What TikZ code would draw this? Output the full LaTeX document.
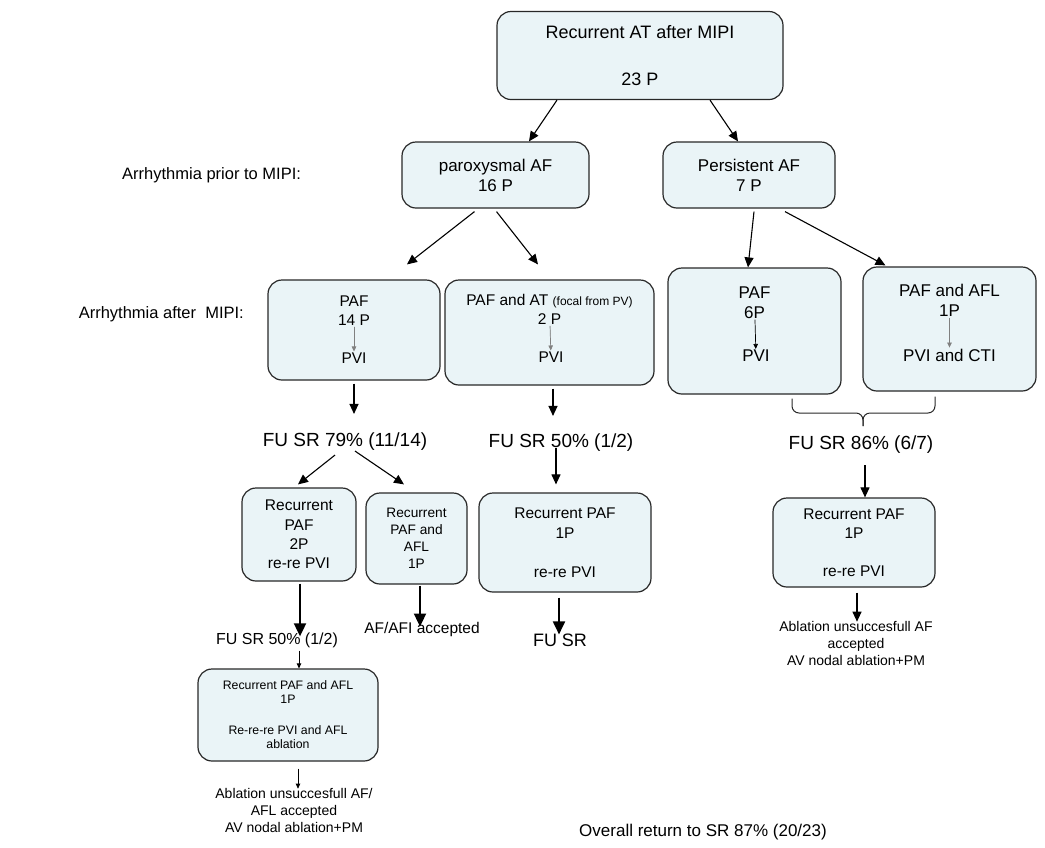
\documentclass[tikz,border=0pt]{standalone}
\usepackage{fontspec}
\setmainfont{Liberation Sans}
\usetikzlibrary{arrows.meta}
\definecolor{boxfill}{RGB}{234,244,247}
\definecolor{boxline}{RGB}{40,40,40}

\begin{document}
\begin{tikzpicture}[x=1pt,y=-1pt,
    box/.style={draw=boxline, fill=boxfill, line width=1.2pt, rounded corners=14pt, align=center, inner sep=0pt},
    lbl/.style={align=center, inner sep=1pt},
    arr/.style={-{Triangle[length=10pt,width=9pt]}, line width=1.1pt},
    bigarr/.style={-{Triangle[length=13pt,width=12pt]}, line width=1.9pt},
    smallarr/.style={-{Triangle[length=5pt,width=4.5pt]}, line width=0.7pt},
    greyarr/.style={smallarr, draw=gray, fill=black},
    f19/.style={font=\fontsize{19}{22}\selectfont},
    f17/.style={font=\fontsize{17}{20}\selectfont},
    f15/.style={font=\fontsize{15.5}{19.3}\selectfont},
    f14/.style={font=\fontsize{14}{17}\selectfont}]
    \path[fill=white, use as bounding box] (0,0) rectangle (1045,847);

    % Top
    \node[box, font=\fontsize{18}{21}\selectfont, minimum width=286pt, minimum height=88pt] (top) at (640,55.5) {Recurrent AT after MIPI\\[26pt]23 P};

    % Arrhythmia prior to MIPI
    \node[lbl, font=\fontsize{16.5}{20}\selectfont, anchor=west] (prior) at (121,175) {Arrhythmia prior to MIPI:};
    \node[box, f17, minimum width=187pt, minimum height=66pt] (parox) at (495.5,175) {paroxysmal AF\\16 P};
    \node[box, f17, minimum width=172pt, minimum height=66pt] (persist) at (749,175) {Persistent AF\\7 P};
    \draw[arr] ([xshift=-83pt]top.south) -- ([xshift=33.5pt]parox.north);
    \draw[arr] ([xshift=70pt]top.south) -- ([xshift=-11pt]persist.north);

    % Arrhythmia after MIPI
    \node[lbl, font=\fontsize{16.5}{20}\selectfont, anchor=east] (after) at (245,314) {Arrhythmia after\ \ MIPI:};
    \node[box, minimum width=172pt, minimum height=100pt] (paf) at (354,330) {};
    \node[lbl, f15] (pafA) at (354,310.5) {PAF\\14 P};
    \node[lbl, f15] (pafB) at (354,358) {PVI};
    \draw[greyarr] (pafA) -- (pafB);

    \node[box, minimum width=209pt, minimum height=105pt] (pafat) at (549.5,332.5) {};
    \node[lbl, f15] (pafatA) at (549.5,309.5) {PAF and AT {\fontsize{12}{14}\selectfont(focal from PV)}\\2 P};
    \node[lbl, f15] (pafatB) at (551,357) {PVI};
    \draw[greyarr] (pafatA) -- (pafatB);

    \node[box, minimum width=173pt, minimum height=126pt] (paf6) at (754.5,331) {};
    \node[lbl, f17] (paf6A) at (754.5,302.5) {PAF\\6P};
    \node[lbl, f17] (paf6B) at (756,356) {PVI};
    \draw[smallarr] (paf6A) -- (paf6B);

    \node[box, minimum width=173pt, minimum height=124pt] (pafafl) at (949.5,329) {};
    \node[lbl, f17] (pafaflA) at (949.5,300.5) {PAF and AFL\\1P};
    \node[lbl, f17] (pafaflB) at (949.5,355) {PVI and CTI};
    \draw[greyarr] (pafaflA) -- (pafaflB);

    \draw[arr] ([xshift=-21pt,yshift=-3pt]parox.south) -- ([xshift=53pt,yshift=15pt]paf.north);
    \draw[arr] ([xshift=1pt,yshift=-3pt]parox.south) -- ([xshift=-11.5pt,yshift=15pt]pafat.north);
    \draw[arr] ([xshift=5pt,yshift=-3pt]persist.south) -- ([xshift=-6.5pt]paf6.north);
    \draw[arr] ([xshift=36pt,yshift=-3pt]persist.south) -- ([xshift=-64pt,yshift=1pt]pafafl.north);

    % Left branch
    \node[lbl, f19] (fu1) at (345,442) {FU SR 79\% (11/14)};
    \draw[arr] ([yshift=-3pt]paf.south) -- ([xshift=9pt,yshift=18pt]fu1.north);
    \node[box, f15, minimum width=114pt, minimum height=93pt] (rec1) at (299,534.5) {Recurrent\\PAF\\2P\\re-re PVI};
    \node[box, font=\fontsize{13.7}{17}\selectfont, minimum width=101pt, minimum height=91pt] (rec2) at (416.5,538.5) {Recurrent\\PAF and\\AFL\\1P};
    \draw[arr] ([xshift=-10pt,yshift=-3pt]fu1.south) -- ([xshift=-1pt,yshift=3pt]rec1.north);
    \draw[arr] ([xshift=10pt,yshift=1pt]fu1.south) -- ([xshift=-12.5pt,yshift=8pt]rec2.north);

    \node[lbl, font=\fontsize{16}{19}\selectfont] (fu1b) at (277,640) {FU SR 50\% (1/2)};
    \draw[bigarr] ([xshift=1pt,yshift=-2pt]rec1.south) -- ([xshift=23pt,yshift=-5pt]fu1b.north);
    \node[box, font=\fontsize{12.3}{14}\selectfont, minimum width=180pt, minimum height=92pt] (rec4) at (288,715) {Recurrent PAF and AFL\\1P\\[17pt]Re-re-re PVI and AFL\\ablation};
    \draw[smallarr] ([xshift=22pt,yshift=-2pt]fu1b.south) -- ([xshift=11pt]rec4.north);
    \node[lbl, f14] (abl1) at (294,810) {Ablation unsuccesfull AF/\\AFL accepted\\AV nodal ablation+PM};
    \draw[smallarr] ([xshift=10pt,yshift=-7pt]rec4.south) -- ([xshift=4pt,yshift=-2pt]abl1.north);

    \node[lbl, font=\fontsize{15.5}{19}\selectfont] (acc2) at (422,629) {AF/AFI accepted};
    \draw[bigarr] ([xshift=3.5pt,yshift=-1pt]rec2.south) -- ([xshift=-2pt,yshift=-6pt]acc2.north);

    % Middle branch
    \node[lbl, f19] (fu2) at (561,443) {FU SR 50\% (1/2)};
    \draw[arr] ([xshift=3.5pt,yshift=-3pt]pafat.south) -- ([xshift=-8pt,yshift=17pt]fu2.north);
    \node[box, font=\fontsize{15.5}{20}\selectfont, minimum width=172pt, minimum height=99pt] (rec5) at (565,542.5) {Recurrent PAF\\1P\\[19pt]re-re PVI};
    \draw[arr] ([xshift=-5pt,yshift=5pt]fu2.south) -- ([xshift=-9pt,yshift=8pt]rec5.north);
    \node[lbl, font=\fontsize{18}{21}\selectfont] (fu5) at (560,640) {FU SR};
    \draw[bigarr] ([xshift=-6pt,yshift=-5pt]rec5.south) -- ([xshift=-1pt,yshift=-2pt]fu5.north);

    % Right branch
    \coordinate (brtip) at (863,426);
    \draw[boxline, line width=1pt, rounded corners=7pt]
        ([xshift=37.5pt,yshift=-4pt]paf6.south) |- (brtip |- 0,413) -- (brtip);
    \draw[boxline, line width=1pt, rounded corners=7pt]
        ([xshift=-14.5pt,yshift=-5pt]pafafl.south) |- (brtip |- 0,413) -- (brtip);
    \node[lbl, f19] (fu3) at (861,445) {FU SR 86\% (6/7)};
    \node[box, font=\fontsize{15.5}{19}\selectfont, minimum width=162pt, minimum height=89pt] (rec3) at (854,542.5) {Recurrent PAF\\1P\\[19pt]re-re PVI};
    \draw[arr] ([xshift=4pt,yshift=-10pt]fu3.south) -- ([xshift=11pt]rec3.north);
    \node[lbl, f14] (abl3) at (856,643) {Ablation unsuccesfull AF\\accepted\\AV nodal ablation+PM};
    \draw[arr] ([xshift=3pt,yshift=-5pt]rec3.south) -- ([xshift=1pt,yshift=-2pt]abl3.north);

    % Overall
    \node[lbl, f17] (overall) at (703,832) {Overall return to SR 87\% (20/23)};
\end{tikzpicture}
\end{document}
